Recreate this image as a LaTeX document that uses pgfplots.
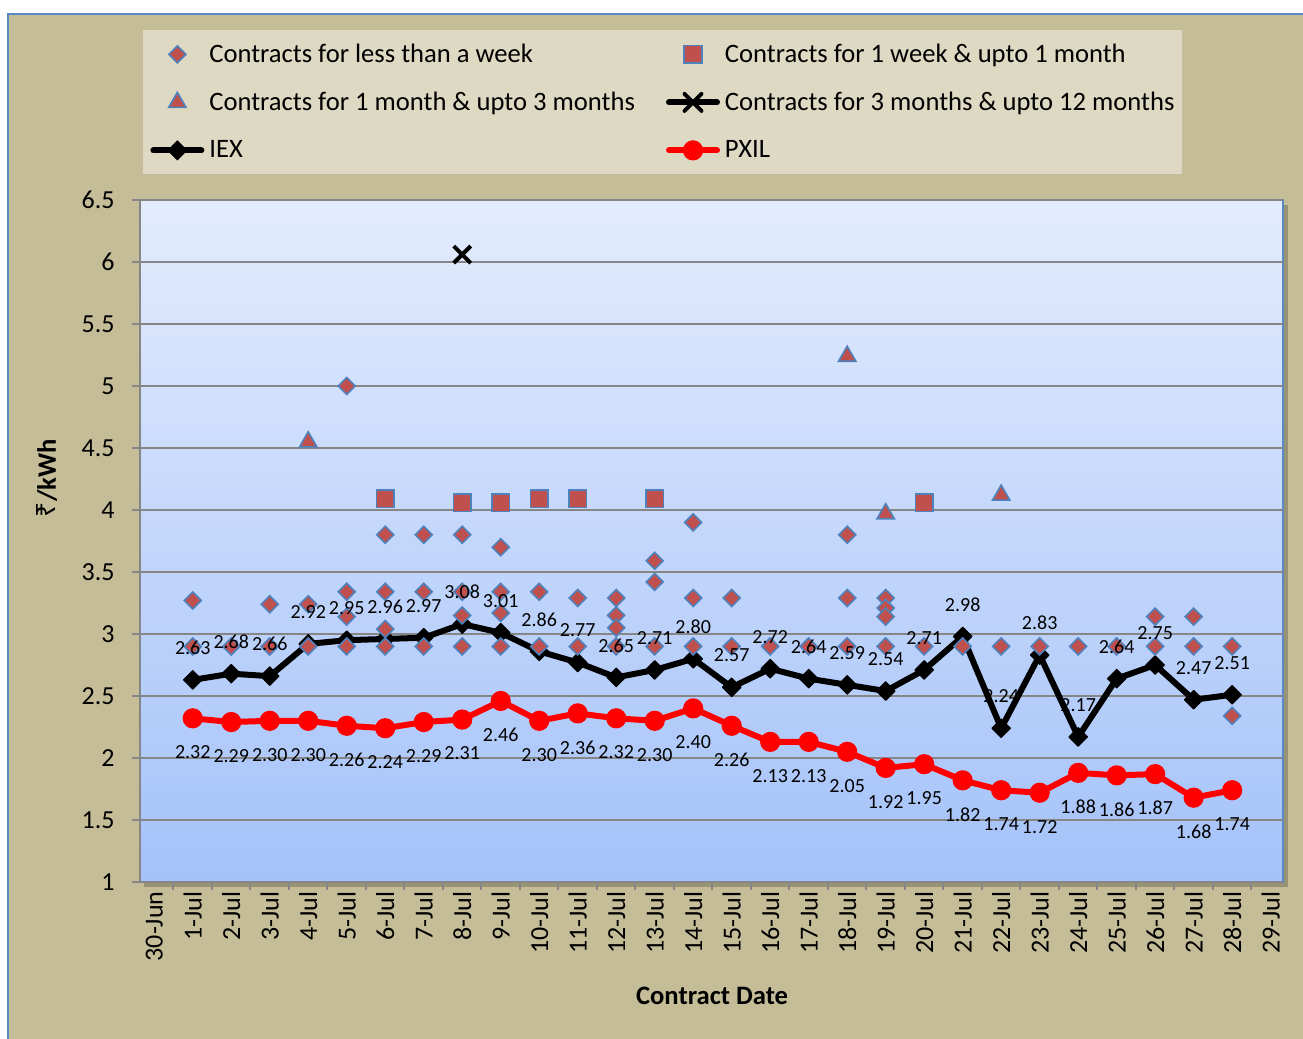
\documentclass[border=0pt]{standalone}
\usepackage{pgfplots}
\usepackage{pgfplotstable}
\pgfplotsset{compat=1.18}
\usepackage{fontspec}
\setmainfont{Carlito}
\newfontfamily\rupee{Noto Sans}

\definecolor{outerbg}{HTML}{C4BD97}
\definecolor{legbg}{HTML}{DDD9C3}
\definecolor{pltop}{RGB}{227,236,253}
\definecolor{plbot}{RGB}{164,194,249}
\definecolor{gridgray}{HTML}{868686}
\definecolor{mred}{HTML}{C0504D}
\definecolor{mblue}{HTML}{4F81BD}
\definecolor{borderblue}{HTML}{5A8AC6}

\pgfplotstableread{
x y
1 2.63
2 2.68
3 2.66
4 2.92
5 2.95
6 2.96
7 2.97
8 3.08
9 3.01
10 2.86
11 2.77
12 2.65
13 2.71
14 2.80
15 2.57
16 2.72
17 2.64
18 2.59
19 2.54
20 2.71
21 2.98
22 2.24
23 2.83
24 2.17
25 2.64
26 2.75
27 2.47
28 2.51
}\iex

\pgfplotstableread{
x y
1 2.32
2 2.29
3 2.30
4 2.30
5 2.26
6 2.24
7 2.29
8 2.31
9 2.46
10 2.30
11 2.36
12 2.32
13 2.30
14 2.40
15 2.26
16 2.13
17 2.13
18 2.05
19 1.92
20 1.95
21 1.82
22 1.74
23 1.72
24 1.88
25 1.86
26 1.87
27 1.68
28 1.74
}\pxil

\pgfplotstableread{
x y
1 3.27
1 2.90
2 2.90
3 3.24
3 2.90
4 3.24
4 2.90
5 5.00
5 3.34
5 3.14
5 2.90
6 3.80
6 3.34
6 3.04
6 2.90
7 3.80
7 3.34
7 2.90
8 3.80
8 3.34
8 3.15
8 2.90
9 3.70
9 3.34
9 3.17
9 2.90
10 3.34
10 2.90
11 3.29
11 2.90
12 3.29
12 3.15
12 3.05
12 2.90
13 3.59
13 3.42
13 2.90
14 3.90
14 3.29
14 2.90
15 3.29
15 2.90
16 2.90
17 2.90
18 3.80
18 3.29
18 2.90
19 3.29
19 3.21
19 3.14
19 2.90
20 2.90
21 2.90
22 2.90
23 2.90
24 2.90
25 2.90
26 3.14
26 2.90
27 3.14
27 2.90
28 2.90
28 2.34
}\week

\pgfplotstableread{
x y
6 4.09
8 4.06
9 4.06
10 4.09
11 4.09
13 4.09
20 4.06
}\month

\pgfplotstableread{
x y
4 4.55
18 5.24
19 3.97
22 4.12
}\threemonth

\begin{document}
\begin{tikzpicture}
\path[use as bounding box] (-70pt,-78.5pt) rectangle (581.5pt,441pt);
\fill[white] (-70pt,-78.5pt) rectangle (581.5pt,441pt);
\fill[outerbg] (-66pt,-78.5pt) rectangle (581.5pt,434pt);
\draw[borderblue, line width=0.8pt] (-66pt,-78.5pt) -- (-66pt,434pt) -- (581.5pt,434pt);
\fill[black,opacity=0.22] (2pt,-2.5pt) rectangle (574pt,338.5pt);
\begin{axis}[
  at={(0pt,0pt)}, anchor=south west,
  width=571.5pt, height=341pt, scale only axis,
  xmin=-0.37, xmax=29.32, ymin=1, ymax=6.5,
  axis background/.style={top color=pltop, bottom color=plbot, draw=borderblue, line width=1pt},
  axis x line*=bottom, axis y line*=left,
  axis line style={draw=gridgray, line width=1pt, -},
  ymajorgrids, major grid style={draw=gridgray, line width=1pt},
  tick align=outside, major tick length=4pt,
  tick style={draw=gridgray, line width=1pt},
  ytick={1,1.5,...,6.5},
  xtick={-0.5,0.5,...,29.5}, xticklabels={},
  extra x ticks={0,1,...,29},
  extra x tick labels={30-Jun,1-Jul,2-Jul,3-Jul,4-Jul,5-Jul,6-Jul,7-Jul,8-Jul,9-Jul,10-Jul,11-Jul,12-Jul,13-Jul,14-Jul,15-Jul,16-Jul,17-Jul,18-Jul,19-Jul,20-Jul,21-Jul,22-Jul,23-Jul,24-Jul,25-Jul,26-Jul,27-Jul,28-Jul,29-Jul},
  extra x tick style={major tick length=0pt},
  tick label style={font=\fontsize{13}{15}\selectfont},
  xticklabel style={yshift=-4.5pt, rotate=90, anchor=east, inner sep=0pt},
  yticklabel style={anchor=east, inner sep=0pt, xshift=-8.5pt},
  /pgf/number format/assume math mode=true,
  xlabel={Contract Date},
  ylabel={{\rupee ₹}/kWh},
  xlabel style={at={(axis description cs:0.5005,-0.167)}, anchor=center, font=\fontsize{13.3}{16}\selectfont\bfseries},
  ylabel style={at={(axis description cs:-0.0814,0.592)}, anchor=center, font=\fontsize{13.3}{16}\selectfont\bfseries},
  legend columns=2,
  legend cell align=left,
  legend style={at={(axis description cs:0.0026,1.2493)}, anchor=north west, draw=none, fill=legbg,
    inner xsep=3.5pt, inner ysep=0pt, row sep=0pt, font=\fontsize{13.3}{16}\selectfont,
    nodes={inner sep=0pt, minimum height=24pt},
    /tikz/every odd column/.append style={column sep=2.5pt},
    /tikz/every even column/.append style={column sep=15.5pt}},
  legend image code/.code={\draw[mark repeat=2,mark phase=2,#1] plot coordinates {(1.5pt,0pt) (13.5pt,0pt) (25.5pt,0pt)};},
]
\addlegendimage{only marks, mark=square*, mark size=3pt, mark options={rotate=45, fill=mred, draw=mblue, line width=0.8pt}}
\addlegendentry{Contracts for less than a week}
\addlegendimage{only marks, mark=square*, mark size=4.4pt, mark options={fill=mred, draw=mblue, line width=0.8pt}}
\addlegendentry{Contracts for 1 week \& upto 1 month}
\addlegendimage{only marks, mark=triangle*, mark size=5pt, mark options={fill=mred, draw=mblue, line width=0.8pt}}
\addlegendentry{Contracts for 1 month \& upto 3 months}
\addlegendimage{black, line width=3pt, line cap=round, mark=x, mark size=6pt, mark options={line width=2pt}}
\addlegendentry{Contracts for 3 months \& upto 12 months}
\addlegendimage{black, line width=3pt, line cap=round, mark=square*, mark size=3.3pt, mark options={rotate=45, line width=0.5pt}}
\addlegendentry{IEX}
\addlegendimage{red, line width=3pt, line cap=round, mark=*, mark size=4.8pt, mark options={line width=0.5pt}}
\addlegendentry{PXIL}

\addplot[forget plot, black, line width=3pt, line join=round, mark=square*, mark size=3.3pt, mark options={rotate=45, line width=0.5pt}] table {\iex};
\addplot[forget plot, red, line width=3pt, line join=round, mark=*, mark size=4.8pt, mark options={line width=0.5pt}] table {\pxil};
\addplot[forget plot, only marks, mark=square*, mark size=3pt, mark options={rotate=45, fill=mred, draw=mblue, line width=0.8pt}] table {\week};
\addplot[forget plot, only marks, mark=square*, mark size=4.4pt, mark options={fill=mred, draw=mblue, line width=0.8pt}] table {\month};
\addplot[forget plot, only marks, mark=triangle*, mark size=5pt, mark options={fill=mred, draw=mblue, line width=0.8pt}] table {\threemonth};
\addplot[forget plot, black, line width=3pt, mark=x, mark size=6pt, mark options={line width=2pt}] coordinates {(8,6.06)};

\addplot[forget plot, draw=none, mark=none,
  nodes near coords={\pgfmathprintnumber[fixed,fixed zerofill,precision=2]{\pgfplotspointmeta}},
  every node near coord/.append style={font=\fontsize{10}{12}\selectfont, text=black, anchor=center, yshift=16pt}] table {\iex};
\addplot[forget plot, draw=none, mark=none,
  nodes near coords={\pgfmathprintnumber[fixed,fixed zerofill,precision=2]{\pgfplotspointmeta}},
  every node near coord/.append style={font=\fontsize{10}{12}\selectfont, text=black, anchor=center, yshift=-17pt}] table {\pxil};
\end{axis}
\end{tikzpicture}
\end{document}
